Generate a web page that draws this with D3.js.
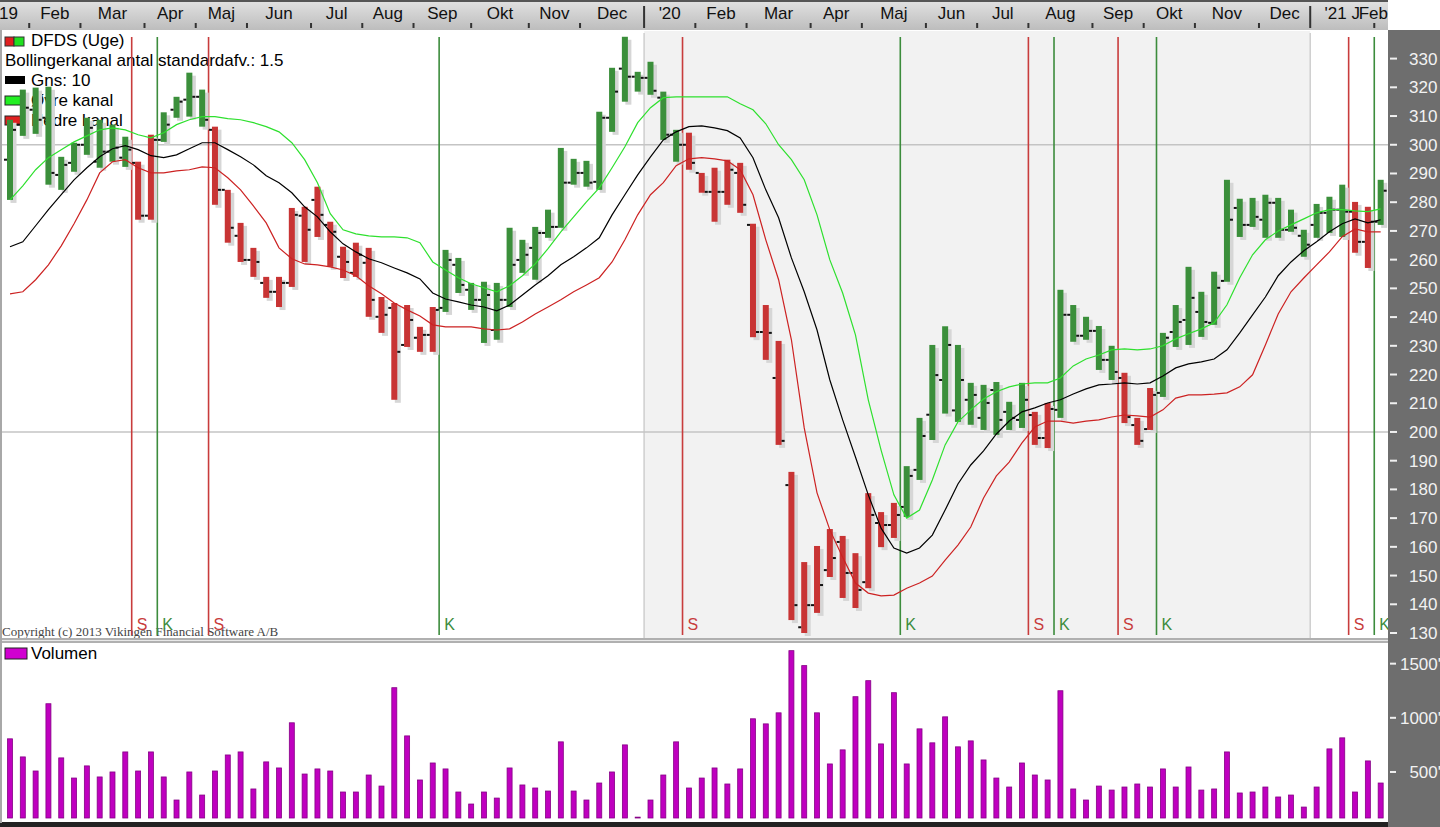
<!DOCTYPE html>
<html><head><meta charset="utf-8">
<script src="https://cdn.jsdelivr.net/npm/d3@7"></script>
<style>
html,body{margin:0;padding:0;background:#fff;overflow:hidden}
svg{display:block;font-family:"Liberation Sans",Arial,sans-serif}
</style></head><body>
<svg id="c" width="1440" height="827"></svg>
<script>
// ---- weekly OHLC (DFDS, Uge) ----
const highs = [308.7,319.2,319.9,320.2,295.8,300.7,309.4,308.7,307.0,302.8,
294.1,303.5,311.3,316.7,325.1,319.2,306.3,284.3,272.8,264.1,
254.0,254.0,278.0,278.4,285.4,273.2,264.5,265.9,264.1,247.0,
244.9,244.2,236.6,243.5,263.4,260.6,251.9,252.3,251.9,271.1,
266.9,271.4,277.4,298.9,295.1,294.4,311.5,326.8,337.6,325.4,
328.9,318.5,305.2,304.2,290.2,292.0,294.8,293.7,272.5,244.2,
231.7,186.1,154.7,160.3,166.2,163.8,157.8,178.7,172.1,175.3,
188.1,204.9,230.3,236.8,230.3,217.1,216.4,217.4,210.5,217.1,
207.0,210.1,249.5,244.2,240.1,236.9,230.0,220.6,204.9,215.3,
234.5,244.2,257.5,248.8,255.8,287.8,281.2,281.5,282.6,281.5,
277.4,270.4,279.4,281.9,286.1,280.1,278.4,287.8];
const lows = [280.8,303.1,303.8,286.1,284.3,290.6,296.5,292.0,294.1,292.3,
273.9,273.9,301.0,309.4,309.8,306.3,279.1,265.9,259.2,254.0,
246.7,243.5,250.5,259.2,267.9,257.5,253.6,254.0,240.1,234.5,
211.2,229.6,227.9,227.9,241.8,248.4,242.5,231.0,232.1,243.5,
255.4,253.0,267.6,271.1,286.1,285.4,284.3,304.5,315.0,318.5,
317.4,301.7,294.1,291.3,283.3,273.2,279.1,276.3,233.0,225.1,
195.5,134.5,130.0,137.0,149.5,142.2,138.7,145.6,159.9,163.1,
170.4,183.3,197.2,206.4,203.5,202.5,200.7,199.0,200.7,201.4,
195.5,194.4,204.9,231.4,232.1,221.6,218.1,203.1,195.5,200.7,
212.2,229.6,230.3,233.1,237.3,252.3,267.9,271.4,267.6,267.6,
269.7,261.0,267.6,269.3,267.9,262.4,257.1,272.1];
const opens = [294.8,307.0,312.2,309.4,289.5,293.7,300.0,294.1,297.6,295.5,
293.7,275.3,301.7,312.2,315.7,316.7,305.2,284.3,268.3,259.9,
251.9,248.8,251.9,275.3,280.8,272.1,261.0,255.4,258.9,240.1,
243.2,230.3,232.8,233.8,243.2,258.2,249.5,246.0,235.5,246.0,
259.9,264.1,269.3,271.4,286.8,290.2,287.1,309.4,326.5,323.7,
323.3,316.4,303.5,300.0,290.2,283.6,283.6,290.2,272.1,234.8,
218.8,181.5,132.0,139.7,151.9,161.7,150.9,147.7,168.3,167.6,
173.9,186.8,206.0,218.1,207.5,211.2,204.9,214.6,207.0,204.2,
205.9,197.9,207.7,240.8,233.5,235.2,225.1,218.8,202.4,201.0,
213.6,234.8,239.0,241.8,238.0,252.6,278.0,272.1,273.9,279.8,
270.4,268.3,272.1,276.3,277.4,276.7,266.2,273.2];
const closes = [305.2,312.9,308.7,290.2,293.0,300.0,305.9,297.6,299.0,298.3,
275.3,301.7,307.0,315.0,316.7,308.7,284.3,271.1,259.9,259.2,
248.8,251.9,275.6,270.4,275.6,269.7,259.2,261.7,246.0,240.8,
227.9,239.0,233.8,242.5,259.9,251.2,246.0,247.7,246.0,258.2,
261.7,269.3,271.4,286.8,290.2,286.8,309.4,318.5,323.7,323.3,
318.8,303.5,300.0,293.7,283.6,283.6,291.3,279.1,234.8,234.5,
196.9,139.7,139.7,146.7,156.1,150.9,145.0,171.1,167.6,171.1,
184.7,198.6,219.8,230.3,218.1,212.9,210.1,204.2,204.9,211.2,
197.9,208.0,240.8,233.5,235.2,225.1,220.9,205.2,196.9,212.9,
232.8,238.3,246.7,238.3,250.2,273.9,272.1,274.9,279.8,270.4,
271.1,265.2,276.3,277.4,276.7,266.2,273.2,284.0];

// ---- Bollinger channel (Gns: 10, 1.5 std) ----
const upperBand = [280.8,285.7,291.3,295.5,298.3,301.0,303.1,305.2,305.9,305.2,
303.5,302.4,304.2,307.0,308.7,309.8,309.8,309.1,308.7,307.7,
306.3,304.5,300.7,294.8,286.8,276.0,270.4,269.0,268.3,267.9,
267.9,267.6,265.9,259.2,256.4,253.7,251.6,250.2,248.8,250.9,
254.4,258.5,263.8,269.7,274.9,280.1,285.0,292.0,299.3,307.7,
312.9,316.4,316.7,316.7,316.7,316.7,316.7,314.3,312.2,307.3,
300.0,294.8,287.8,275.6,259.9,248.4,233.8,211.2,193.7,178.1,
170.0,172.8,183.3,195.5,203.5,207.7,211.5,214.0,215.7,216.7,
217.1,217.1,218.8,223.0,225.4,226.8,228.6,228.9,228.6,228.9,
230.0,232.4,234.2,235.9,238.0,244.3,253.7,261.7,266.9,270.0,
272.1,274.2,276.3,277.4,277.4,277.0,276.7,277.7];
const middleBand = [264.5,266.2,271.8,277.4,282.6,287.8,292.0,295.8,298.6,299.7,
298.3,296.2,295.5,296.5,298.6,300.7,300.7,298.3,295.8,293.0,
289.2,286.8,283.3,278.4,274.9,269.7,265.5,262.7,260.3,258.9,
257.1,255.4,253.3,248.4,246.3,245.3,244.2,243.5,242.2,244.2,
247.7,251.2,254.4,258.2,261.0,264.1,267.6,275.6,282.6,289.5,
295.8,301.7,304.5,306.3,306.6,305.9,304.9,302.4,295.5,284.3,
274.6,260.6,248.8,235.5,218.1,204.2,191.3,178.1,166.5,159.6,
157.8,159.6,164.1,172.8,181.9,188.5,193.4,199.3,203.8,207.0,
208.4,210.1,211.2,213.2,215.0,216.4,216.7,217.1,216.7,217.1,
219.5,222.3,223.7,224.4,225.4,228.6,234.5,240.8,247.0,254.4,
259.2,263.1,266.2,269.7,272.5,274.2,272.8,273.9];
const lowerBand = [248.1,248.8,253.0,258.2,264.8,272.5,280.8,290.2,294.1,294.8,
292.0,290.2,290.2,290.9,291.3,292.3,292.0,288.5,284.3,278.7,
272.8,264.1,260.3,258.5,258.2,257.5,256.4,254.4,250.9,248.1,
244.9,242.5,240.4,237.3,236.6,236.6,236.6,235.9,235.5,235.9,
238.3,241.1,243.5,246.0,248.8,251.2,253.7,259.2,266.9,275.6,
282.6,286.8,292.7,295.1,295.5,295.1,294.4,291.3,282.6,266.9,
253.0,232.1,201.4,178.8,165.9,156.4,147.4,143.9,142.9,143.2,
145.6,147.4,149.8,155.4,160.6,166.9,177.0,184.7,189.5,196.2,
201.7,203.8,203.8,203.1,203.8,204.2,205.2,205.9,205.6,205.2,
207.7,211.8,212.9,212.9,213.2,213.6,215.7,219.9,230.3,241.1,
248.8,253.6,258.2,262.7,268.0,270.7,269.7,269.7];

// ---- weekly volume (thousands) ----
const volumes = [806,639,509,1130,630,444,556,454,500,685,
509,685,454,241,500,287,509,657,685,343,
593,537,954,481,528,509,315,315,472,370,
1278,833,426,583,528,315,204,315,259,537,
380,352,324,778,324,241,398,500,750,83,
241,472,778,352,444,537,389,528,991,944,
1046,1620,1482,1046,574,704,1195,1343,759,1232,
574,898,769,1009,732,787,611,444,361,583,
472,426,1250,343,241,370,333,361,389,361,
528,361,546,333,343,685,306,315,361,269,
287,176,361,713,815,315,602,398];

// ---- signals (week index where signal takes effect) ----
const signalWeeks = [10,12,16,34,53,70,80,82,87,90,105,107];
const signalTypes = ["S","K","S","K","S","K","S","K","S","K","S","K"];

// ---- time axis: month labels and first week of each month ----
const monthLabels = ["'19","Feb","Mar","Apr","Maj","Jun","Jul","Aug","Sep","Okt","Nov","Dec",
  "'20","Feb","Mar","Apr","Maj","Jun","Jul","Aug","Sep","Okt","Nov","Dec","'21 J","Feb"];
const monthStartWeeks = [-1.5,2,6,11,15,19,24,28,32,36.5,41,45,50,54,58,63,67,72,76,80,85,89,93,98,102,107];
const shadeWeeks = [50,102];

const priceTicks = d3.range(130, 331, 10);
const volumeTicks = [500,1000,1500];

// ---------------- drawing ----------------
const svg = d3.select('#c');
const plotRight = 1388;
const n = closes.length;
const x = d3.scaleLinear().domain([0, n - 1]).range([10, 10 + 12.81 * (n - 1)]);
const y = d3.scaleLinear().domain([130, 330]).range([633, 58.6]);
const vy = d3.scaleLinear().domain([75, 1700]).range([818, 642]);

const GREEN = '#3b8f3b', RED = '#c83434';
const FS = 17;

const defs = svg.append('defs');
const g1 = defs.append('linearGradient').attr('id','topg').attr('x1',0).attr('y1',0).attr('x2',0).attr('y2',1);
g1.append('stop').attr('offset','0%').attr('stop-color','#e2e2e2');
g1.append('stop').attr('offset','100%').attr('stop-color','#bdbdbd');

// background
svg.append('rect').attr('width',1440).attr('height',827).attr('fill','#fff');

// 2020 shading in price panel
svg.append('rect')
  .attr('x', x(shadeWeeks[0]-0.5)).attr('y', 31)
  .attr('width', x(shadeWeeks[1]-0.5) - x(shadeWeeks[0]-0.5)).attr('height', 607)
  .attr('fill', '#f2f2f2');
shadeWeeks.forEach(w => {
  svg.append('line').attr('x1', x(w-0.5)).attr('x2', x(w-0.5)).attr('y1', 33).attr('y2', 638)
    .attr('stroke', '#cfcfcf').attr('stroke-width', 1.5);
});

// gridlines at 300 and 200
[300, 200].forEach(v => {
  svg.append('line').attr('x1', 0).attr('x2', plotRight).attr('y1', y(v)).attr('y2', y(v))
    .attr('stroke', '#c4c4c4').attr('stroke-width', 1.5);
});

// top time axis band
svg.append('rect').attr('x',0).attr('y',0).attr('width',plotRight).attr('height',30).attr('fill','url(#topg)');
svg.append('rect').attr('x',0).attr('y',0).attr('width',plotRight).attr('height',2).attr('fill','#555');
const tickX = monthStartWeeks.map(w => x(w - 0.5));
tickX.forEach((tx, k) => {
  if (k === 0) return;
  const isYear = monthLabels[k].startsWith("'");
  svg.append('rect').attr('x', tx - 1).attr('y', isYear ? 6 : 23).attr('width', 2).attr('height', isYear ? 22 : 5)
    .attr('fill', '#333');
});
monthLabels.forEach((lab, k) => {
  const left = tickX[k];
  const last = k === monthLabels.length - 1;
  const right = last ? plotRight : tickX[k + 1];
  svg.append('text')
    .attr('x', last ? plotRight : (left + right) / 2)
    .attr('y', 19)
    .attr('text-anchor', last ? 'end' : 'middle')
    .attr('font-size', FS).attr('fill', '#111')
    .text(lab);
});

// legend (drawn beneath the bars)
const leg = svg.append('g').attr('font-size', FS);
leg.append('rect').attr('x',5).attr('y',37).attr('width',9).attr('height',9).attr('fill','#e02020').attr('stroke','#333');
leg.append('rect').attr('x',14).attr('y',37).attr('width',10).attr('height',9).attr('fill','#20e020').attr('stroke','#333');
leg.append('text').attr('x',31).attr('y',46).text('DFDS (Uge)');
leg.append('text').attr('x',5).attr('y',66).text('Bollingerkanal antal standardafv.: 1.5');
leg.append('rect').attr('x',5).attr('y',76).attr('width',20).attr('height',8).attr('fill','#000');
leg.append('text').attr('x',31).attr('y',86).text('Gns: 10');
leg.append('rect').attr('x',5).attr('y',96).attr('width',20).attr('height',9).attr('fill','#22ee22').attr('stroke','#222');
leg.append('text').attr('x',31).attr('y',106).text('Øvre kanal');
leg.append('rect').attr('x',5).attr('y',116).attr('width',20).attr('height',9).attr('fill','#e02020').attr('stroke','#222');
leg.append('text').attr('x',31).attr('y',126).text('Nedre kanal');

// copyright (beneath signal labels, as in the original)
svg.append('text').attr('x',2).attr('y',636).attr('font-family','"Liberation Serif","Times New Roman",serif')
  .attr('font-size',13).attr('fill','#444').text('Copyright (c) 2013  Vikingen Financial Software A/B');

// signal lines
signalWeeks.forEach((w, k) => {
  const sx = x(w - 0.5);
  const col = signalTypes[k] === 'S' ? '#c83c3c' : '#3c8c3c';
  svg.append('line').attr('x1', sx).attr('x2', sx).attr('y1', 37).attr('y2', 635)
    .attr('stroke', col).attr('stroke-width', 1.6);
  svg.append('text').attr('x', sx + 5).attr('y', 630).attr('font-size', 16).attr('fill', col)
    .text(signalTypes[k]);
});

// bars
function regime(i) {
  let t = 'K';
  signalWeeks.forEach((w, k) => { if (w <= i) t = signalTypes[k]; });
  return t;
}
const idx = d3.range(n);
const bars = svg.append('g');
bars.selectAll('rect.sh').data(idx).join('rect').attr('class','sh')
  .attr('x', i => x(i) + 0.5).attr('y', i => y(highs[i]) + 3)
  .attr('width', 6).attr('height', i => y(lows[i]) - y(highs[i]))
  .attr('fill', '#d6d6d6');
bars.selectAll('rect.b').data(idx).join('rect').attr('class','b')
  .attr('x', i => x(i) - 3).attr('y', i => y(highs[i]))
  .attr('width', 6).attr('height', i => y(lows[i]) - y(highs[i]))
  .attr('fill', i => regime(i) === 'S' ? RED : GREEN);
bars.selectAll('rect.o').data(idx).join('rect').attr('class','o')
  .attr('x', i => x(i) - 6).attr('y', i => y(opens[i]) - 1)
  .attr('width', 3).attr('height', 2).attr('fill', '#111');
bars.selectAll('rect.c').data(idx).join('rect').attr('class','c')
  .attr('x', i => x(i) + 3).attr('y', i => y(closes[i]) - 1)
  .attr('width', 3).attr('height', 2).attr('fill', '#111');

// band lines
const line = arr => d3.line().x((d, i) => x(i)).y(d => y(d))(arr);
svg.append('path').attr('d', line(lowerBand)).attr('fill','none').attr('stroke','#cc2222').attr('stroke-width',1.2);
svg.append('path').attr('d', line(upperBand)).attr('fill','none').attr('stroke','#2ee02e').attr('stroke-width',1.2);
svg.append('path').attr('d', line(middleBand)).attr('fill','none').attr('stroke','#000').attr('stroke-width',1.2);

// panel separator
svg.append('rect').attr('x',0).attr('y',638).attr('width',plotRight).attr('height',5).attr('fill','#b0b0b0');
svg.append('rect').attr('x',0).attr('y',640).attr('width',plotRight).attr('height',1).attr('fill','#e8e8e8');

// volume panel
svg.append('rect').attr('x',5).attr('y',648).attr('width',22).attr('height',11).attr('fill','#d000d0').attr('stroke','#222');
svg.append('text').attr('x',31).attr('y',659).attr('font-size',FS).text('Volumen');
svg.append('g').selectAll('rect').data(idx).join('rect')
  .attr('x', i => x(i) - 2.5).attr('y', i => vy(volumes[i]))
  .attr('width', 5).attr('height', i => vy.range()[0] - vy(volumes[i]))
  .attr('fill', '#bf00bf').attr('stroke', '#850085').attr('stroke-width', 0.8);
svg.append('rect').attr('x',0).attr('y',822).attr('width',plotRight).attr('height',5).attr('fill','#222');

// left border
svg.append('rect').attr('x',0).attr('y',30).attr('width',2).attr('height',793).attr('fill','#a8a8a8');

// right axis panel
svg.append('rect').attr('x',plotRight).attr('y',30).attr('width',1440-plotRight).attr('height',797).attr('fill','#6e6e6e');
priceTicks.forEach(t => {
  svg.append('rect').attr('x',1390).attr('y',y(t)-1).attr('width',7).attr('height',2).attr('fill','#f0f0f0');
  svg.append('text').attr('x',1409).attr('y',y(t)+6).attr('font-size',FS).attr('fill','#f2f2f2').text(t);
});
volumeTicks.forEach(t => {
  svg.append('rect').attr('x',1390).attr('y',vy(t)-1).attr('width',6).attr('height',2).attr('fill','#f0f0f0');
  svg.append('text').attr('x',1441).attr('y',vy(t)+6).attr('text-anchor','end').attr('font-size',FS)
    .attr('fill','#f2f2f2').text(t + "'");
});
</script>
</body></html>
